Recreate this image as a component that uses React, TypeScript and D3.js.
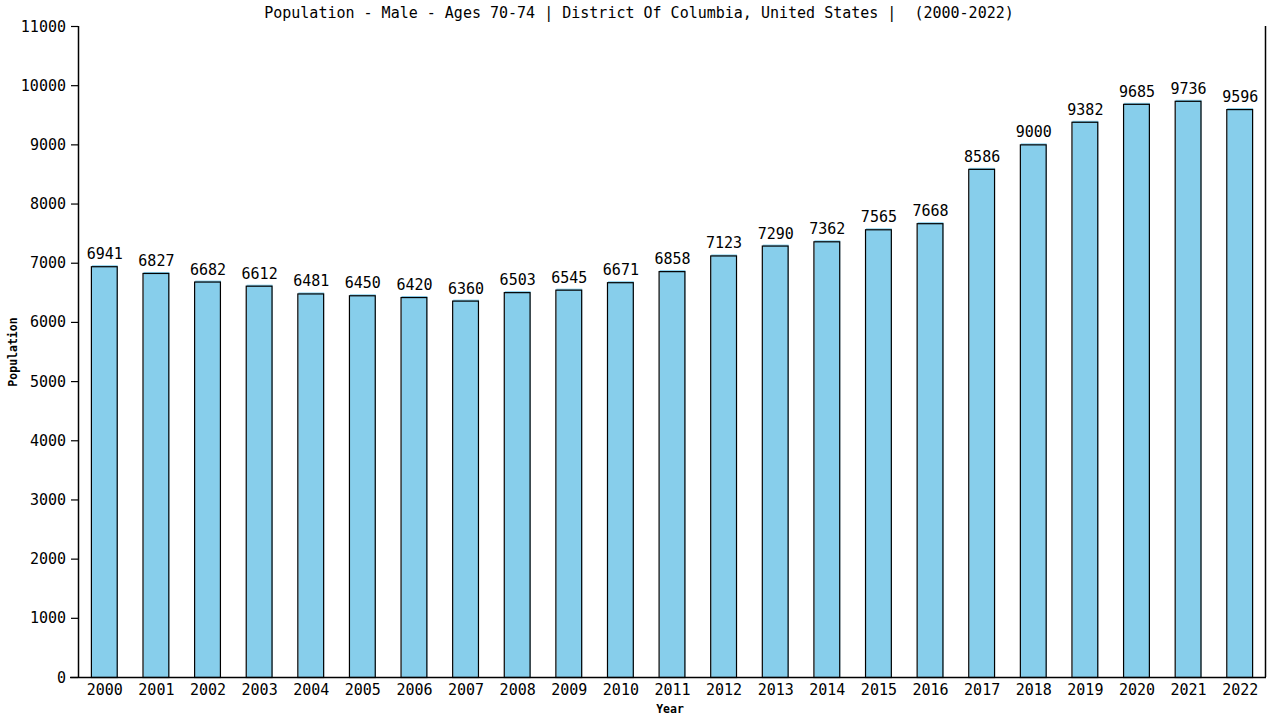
import * as d3 from "d3";

const years = [
  "2000", "2001", "2002", "2003", "2004", "2005", "2006", "2007", "2008", "2009", "2010", "2011",
  "2012", "2013", "2014", "2015", "2016", "2017", "2018", "2019", "2020", "2021", "2022",
];
const population = [
  6941, 6827, 6682, 6612, 6481, 6450, 6420, 6360, 6503, 6545, 6671, 6858,
  7123, 7290, 7362, 7565, 7668, 8586, 9000, 9382, 9685, 9736, 9596,
];
const yTicks = [0, 1000, 2000, 3000, 4000, 5000, 6000, 7000, 8000, 9000, 10000, 11000];

const title = "Population - Male - Ages 70-74 | District Of Columbia, United States |  (2000-2022)";

export default function App() {
  const width = 1280;
  const height = 720;
  const margin = { top: 26, right: 15, bottom: 43, left: 78 };
  const innerWidth = width - margin.left - margin.right;
  const innerHeight = height - margin.top - margin.bottom;
  const font = "'DejaVu Sans Mono', monospace";

  const xScale = d3.scaleBand().domain(years).range([0, innerWidth]).paddingInner(0.5).paddingOuter(0.25);
  const yScale = d3.scaleLinear().domain([0, 11000]).range([innerHeight, 0]);
  const bw = xScale.bandwidth();

  return (
    <svg
      width={width}
      height={height}
      style={{ position: "absolute", left: 0, top: 0, background: "#fff" }}
    >
      <text
        x={639}
        y={18}
        textAnchor="middle"
        fontFamily={font}
        fontSize={15}
        fill="#000"
        style={{ whiteSpace: "pre" }}
      >
        {title}
      </text>
      <g transform={`translate(${margin.left}, ${margin.top})`}>
        {/* Bars */}
        {years.map((yr, i) => {
          const x = xScale(yr) || 0;
          const y = yScale(population[i]);
          return (
            <g key={yr}>
              <rect x={x + 1} y={y - 1} width={bw} height={innerHeight - y + 1} fill="#87CEEB" />
              <rect
                x={x + 0.5}
                y={y + 0.5}
                width={bw}
                height={innerHeight - y}
                fill="none"
                stroke="#000"
                strokeWidth={1.2}
              />
              <text
                x={x + bw / 2 + 1}
                y={y - 7}
                textAnchor="middle"
                fontFamily={font}
                fontSize={15}
                fill="#000"
              >
                {population[i]}
              </text>
              <text
                x={x + bw / 2 + 1}
                y={innerHeight + 18}
                textAnchor="middle"
                fontFamily={font}
                fontSize={15}
                fill="#000"
              >
                {yr}
              </text>
            </g>
          );
        })}

        {/* Axes and frame */}
        <line x1={0.5} x2={0.5} y1={0} y2={innerHeight} stroke="#000" strokeWidth={1.5} />
        <line x1={innerWidth + 0.5} x2={innerWidth + 0.5} y1={0} y2={innerHeight} stroke="#000" strokeWidth={1.5} />
        <line x1={-8} x2={innerWidth + 1} y1={innerHeight + 0.5} y2={innerHeight + 0.5} stroke="#000" strokeWidth={1.5} />
        {yTicks.map((t) => (
          <g key={t} transform={`translate(0, ${yScale(t) + 0.5})`}>
            <line x1={-7} x2={0} stroke="#000" strokeWidth={1.2} />
            <text x={-12} y={5} textAnchor="end" fontFamily={font} fontSize={15} fill="#000">
              {t}
            </text>
          </g>
        ))}
      </g>

      <text
        transform={`translate(17, 352) rotate(-90)`}
        textAnchor="middle"
        fontFamily={font}
        fontSize={11.5}
        fontWeight="bold"
        fill="#000"
      >
        Population
      </text>
      <text x={670} y={713} textAnchor="middle" fontFamily={font} fontSize={11.5} fontWeight="bold" fill="#000">
        Year
      </text>
    </svg>
  );
}
